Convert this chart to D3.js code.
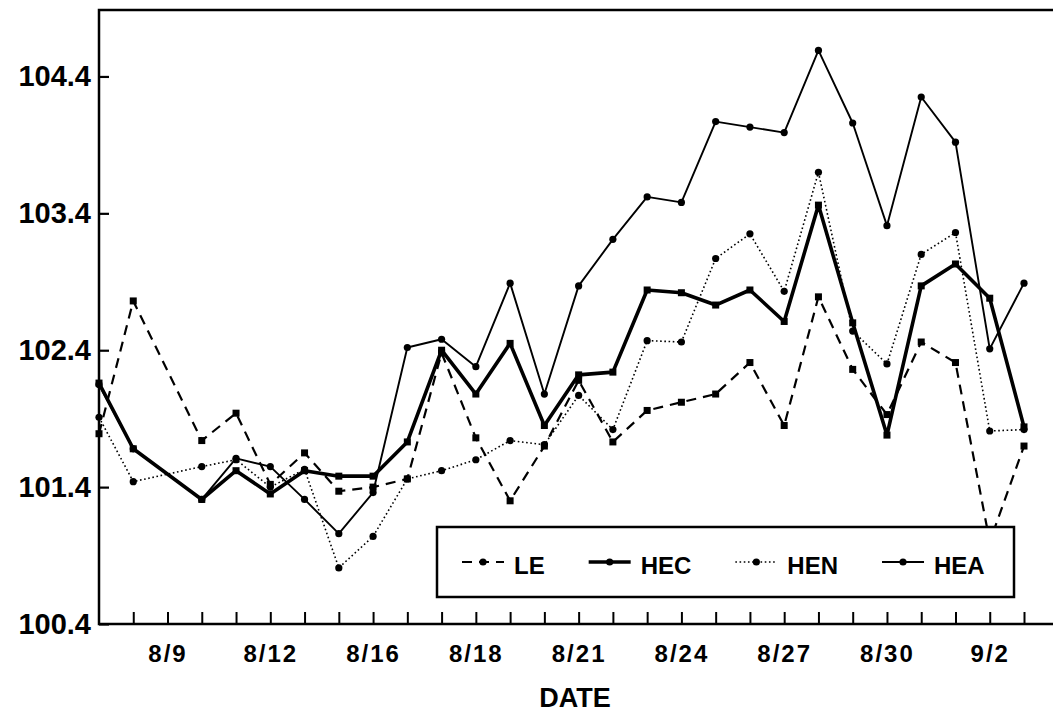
<!DOCTYPE html>
<html>
<head>
<meta charset="utf-8">
<script src="https://cdn.jsdelivr.net/npm/d3@7"></script>
<style>
  body { margin: 0; background: #fff; }
  text { font-family: "Liberation Sans", Arial, sans-serif; font-weight: 700; fill: #000; }
</style>
</head>
<body>
<div id="chart"></div>
<script>
// Temperature readings per day (index 0..27), null = no reading
var dayIndex = d3.range(28);
var labelIdx = [2, 5, 8, 11, 14, 17, 20, 23, 26];
var labelText = ["8/9", "8/12", "8/16", "8/18", "8/21", "8/24", "8/27", "8/30", "9/2"];
var yTicks = [100.4, 101.4, 102.4, 103.4, 104.4];

var LE  = [101.79, 102.76, null, 101.74, 101.94, 101.42, 101.65, 101.37, 101.40, 101.46, 102.38, 101.76, 101.30, 101.70,
           102.18, 101.73, 101.96, 102.02, 102.08, 102.31, 101.85, 102.79, 102.26, 101.93, 102.46, 102.31, 101.00, 101.70];
var HEC = [102.16, 101.68, null, 101.31, 101.52, 101.35, 101.52, 101.48, 101.48, 101.73, 102.40, 102.08, 102.45, 101.85,
           102.22, 102.24, 102.84, 102.82, 102.73, 102.84, 102.61, 103.46, 102.60, 101.78, 102.87, 103.03, 102.78, 101.84];
var HEN = [101.91, 101.44, null, 101.55, 101.60, 101.40, 101.53, 100.81, 101.04, 101.46, 101.52, 101.60, 101.74, 101.71,
           102.07, 101.82, 102.47, 102.46, 103.07, 103.25, 102.83, 103.70, 102.54, 102.30, 103.10, 103.26, 101.81, 101.82];
var HEA = [102.15, 101.68, null, 101.31, 101.61, 101.55, 101.31, 101.06, 101.36, 102.42, 102.48, 102.28, 102.89, 102.08,
           102.87, 103.21, 103.52, 103.48, 104.07, 104.03, 103.99, 104.59, 104.06, 103.31, 104.25, 103.92, 102.41, 102.89];

var svgWidth = 1053;
var svgHeight = 715;

var margin = { top: 8, right: 0, bottom: 91, left: 99 };
var width = svgWidth - margin.left - margin.right;
var height = svgHeight - margin.top - margin.bottom;

var svg = d3.select("#chart")
    .append("svg")
    .attr("width", svgWidth)
    .attr("height", svgHeight);

var chartGroup = svg.append("g")
    .attr("transform", `translate(${margin.left}, ${margin.top})`);

var xScale = d3.scaleLinear()
    .domain([0, 27])
    .range([0, 925]);

var yScale = d3.scaleLinear()
    .domain([100.4, 104.9])
    .range([height, 0]);

var series = [
    { name: "LE",  values: LE,  width: 2.2, dash: "10,7",   marker: "rect" },
    { name: "HEC", values: HEC, width: 3.6, dash: null,     marker: "rect" },
    { name: "HEN", values: HEN, width: 1.6, dash: "1.6,2.6", marker: "circle" },
    { name: "HEA", values: HEA, width: 1.9, dash: null,     marker: "circle" }
];

// axes
var labelMap = {};
labelIdx.forEach(function (d, i) { labelMap[d] = labelText[i]; });

var leftAxis = d3.axisLeft(yScale)
    .tickValues(yTicks)
    .tickSize(-10)
    .tickPadding(8)
    .tickFormat(d3.format(".1f"));

var bottomAxis = d3.axisBottom(xScale)
    .tickValues(d3.range(1, 28))
    .tickSize(-12)
    .tickPadding(21)
    .tickFormat(function (d) { return labelMap[d] || ""; });

var gy = chartGroup.append("g").call(leftAxis);
gy.select(".domain").remove();
gy.selectAll("line").attr("stroke-width", 2.2);
gy.selectAll("text").attr("font-size", "29px");

var gx = chartGroup.append("g")
    .attr("transform", `translate(0, ${height})`)
    .call(bottomAxis);
gx.select(".domain").remove();
gx.selectAll("line").attr("stroke-width", 2);
gx.selectAll("text").attr("font-size", "24px").attr("letter-spacing", "2px");

// frame
chartGroup.append("path")
    .attr("d", `M${width},2 L0,2 L0,${height} L${width},${height}`)
    .attr("fill", "none")
    .attr("stroke", "#000")
    .attr("stroke-width", 2.5);

// lines
var line = d3.line()
    .x(d => xScale(d.i))
    .y(d => yScale(d.v));

series.forEach(function (s) {
    var pts = s.values.map((v, i) => ({ i: i, v: v })).filter(d => d.v !== null);

    chartGroup.append("path")
        .datum(pts)
        .attr("d", line)
        .attr("fill", "none")
        .attr("stroke", "#000")
        .attr("stroke-width", s.width)
        .attr("stroke-dasharray", s.dash)
        .attr("stroke-linejoin", "round");

    if (s.marker === "rect") {
        chartGroup.append("g").selectAll("rect")
            .data(pts)
            .enter()
            .append("rect")
            .attr("x", d => xScale(d.i) - 3.5)
            .attr("y", d => yScale(d.v) - 3.5)
            .attr("width", 7)
            .attr("height", 7)
            .attr("fill", "#000");
    } else {
        chartGroup.append("g").selectAll("circle")
            .data(pts)
            .enter()
            .append("circle")
            .attr("cx", d => xScale(d.i))
            .attr("cy", d => yScale(d.v))
            .attr("r", 3.6)
            .attr("fill", "#000");
    }
});

// legend
var legend = svg.append("g");
legend.append("rect")
    .attr("x", 437)
    .attr("y", 527)
    .attr("width", 577)
    .attr("height", 70)
    .attr("fill", "#fff")
    .attr("stroke", "#000")
    .attr("stroke-width", 2.5);

var lx = 462;
series.forEach(function (s) {
    legend.append("line")
        .attr("x1", lx).attr("x2", lx + 42)
        .attr("y1", 562).attr("y2", 562)
        .attr("stroke", "#000")
        .attr("stroke-width", s.width)
        .attr("stroke-dasharray", s.dash);
    legend.append("circle")
        .attr("cx", lx + 21).attr("cy", 562).attr("r", 3.6)
        .attr("fill", "#000");
    var t = legend.append("text")
        .attr("x", lx + 52)
        .attr("y", 574)
        .attr("font-size", "24px")
        .text(s.name);
    lx = lx + 52 + t.node().getComputedTextLength() + 44;
});

// axis title
svg.append("text")
    .attr("x", 575)
    .attr("y", 707)
    .attr("text-anchor", "middle")
    .attr("font-size", "27px")
    .text("DATE");
</script>
</body>
</html>
